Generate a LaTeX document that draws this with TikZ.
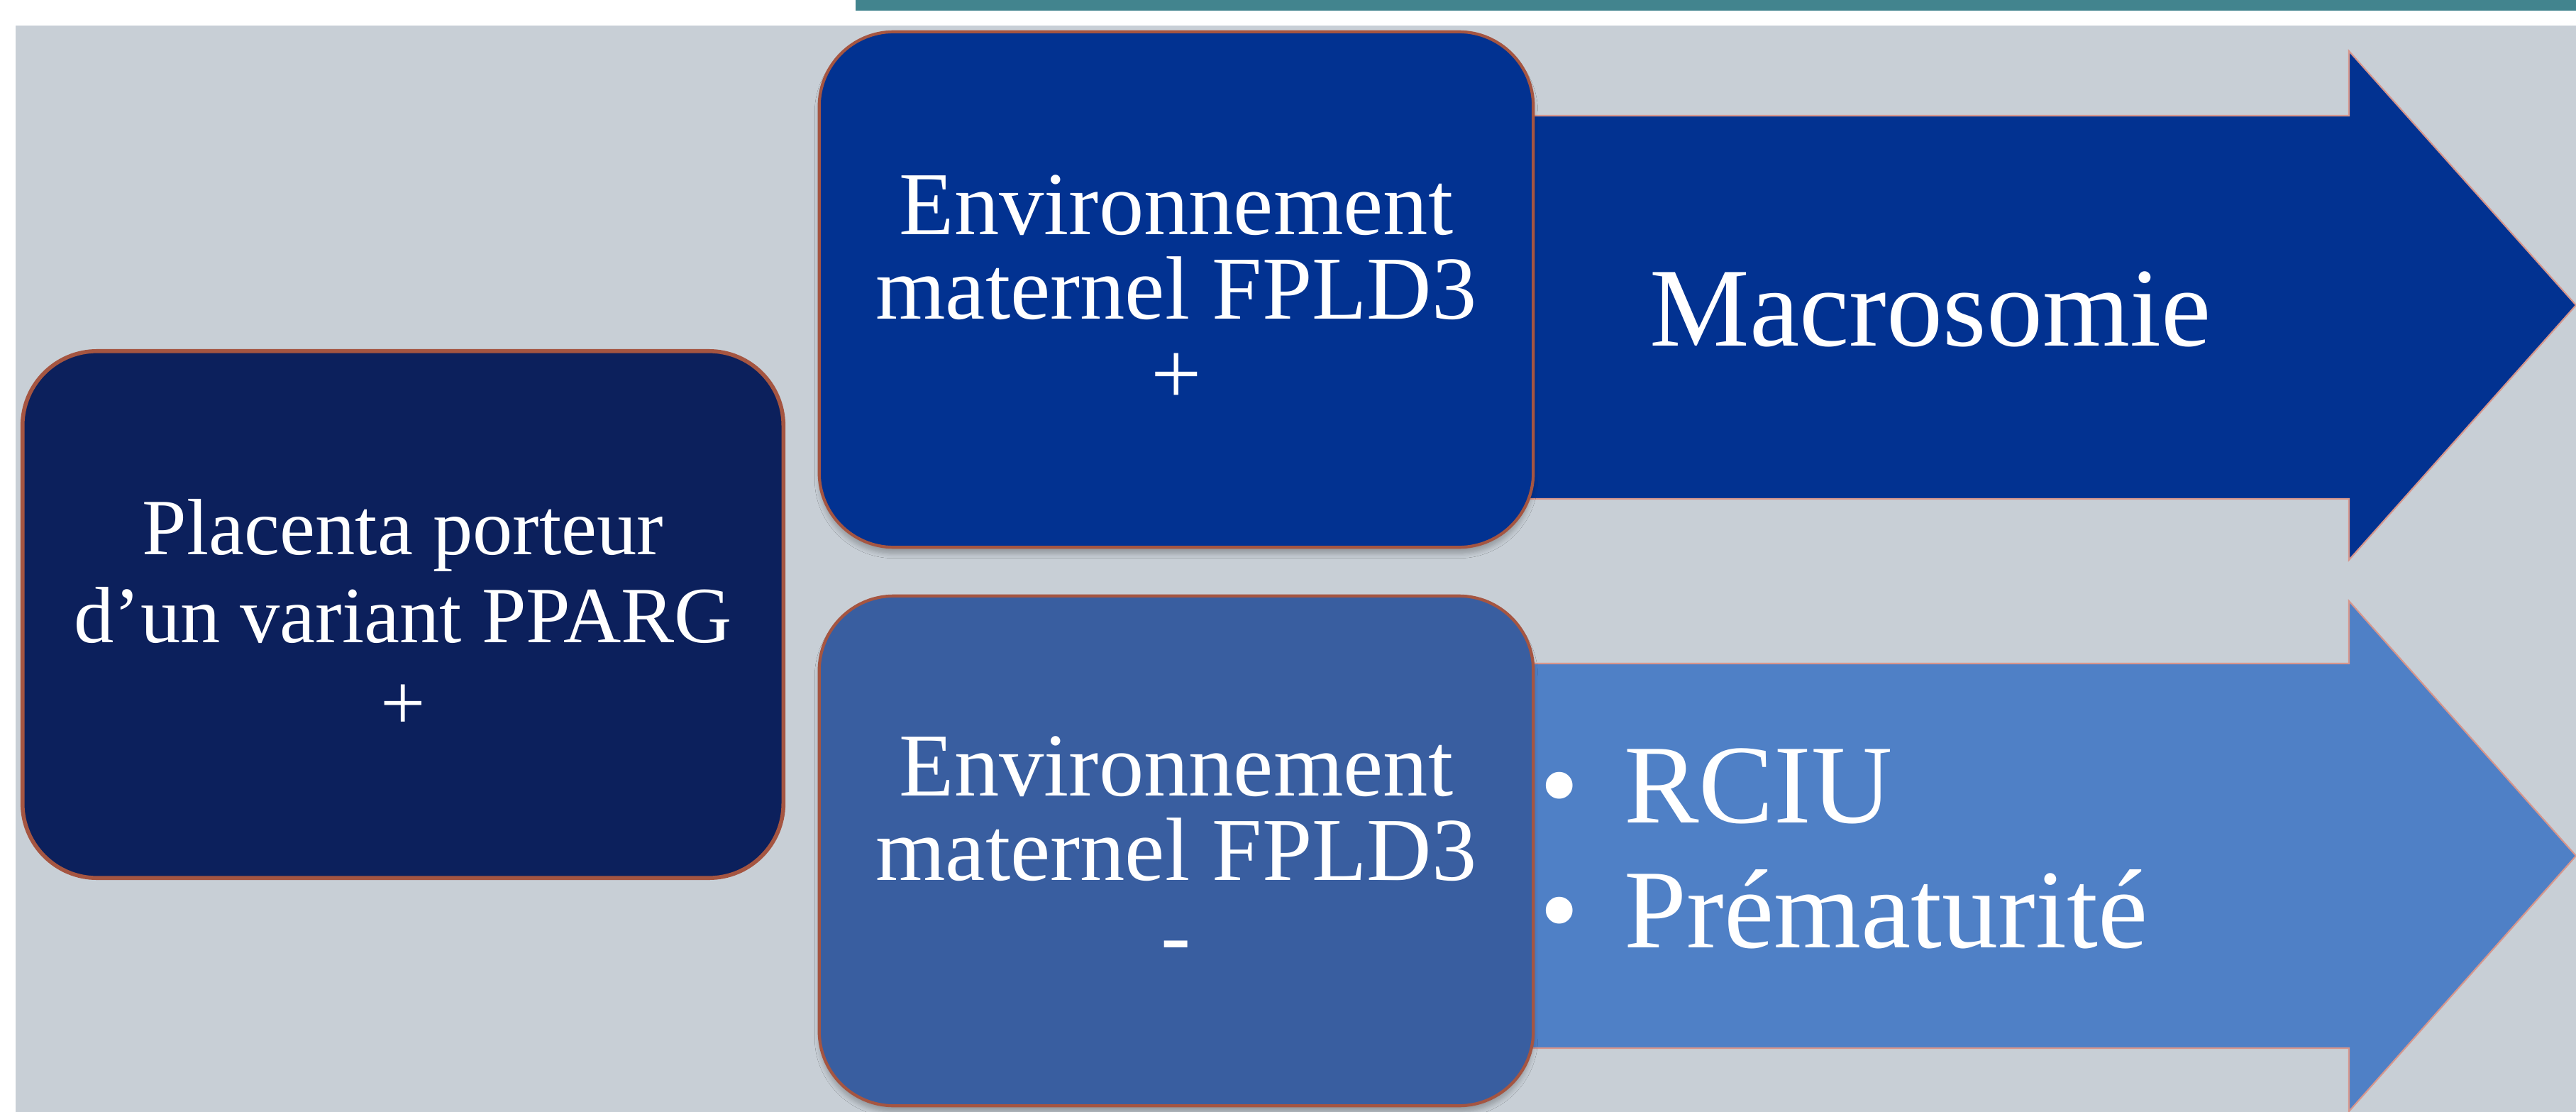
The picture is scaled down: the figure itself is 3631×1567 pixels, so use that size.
\documentclass[tikz,border=0pt]{standalone}
\usepackage{fontspec}
\setmainfont{Liberation Serif}
\usetikzlibrary{shadows.blur}
\definecolor{pagegray}{RGB}{200,207,214}
\definecolor{barteal}{RGB}{66,132,142}
\definecolor{navybox}{RGB}{12,32,92}
\definecolor{deepblue}{RGB}{2,50,145}
\definecolor{midblue}{RGB}{57,94,160}
\definecolor{lightblue}{RGB}{79,128,198}
\definecolor{boxedge}{RGB}{165,85,65}
\definecolor{arrowedge}{RGB}{215,150,140}
\begin{document}
\begin{tikzpicture}[x=0.01cm, y=-0.01cm, every node/.style={text=white, align=center, inner sep=0pt},
  box/.style={draw=boxedge, line width=1.2pt, rounded corners=1.05cm, font=\fontsize{36}{34}\selectfont},
  outtext/.style={anchor=base west, font=\fontsize{45}{50}\selectfont}]
\useasboundingbox (0,0) rectangle (3631,1567);
\fill[white] (0,0) rectangle (3631,1567);
\fill[pagegray] (22,36) rectangle (3631,1567);
\fill[barteal] (1206,0) rectangle (3631,15);

\filldraw[deepblue, draw=arrowedge, line width=0.6pt] (2100,163) -- (3311,163) -- (3311,72) -- (3631,430) -- (3311,789) -- (3311,703) -- (2100,703) -- cycle;
\filldraw[lightblue, draw=arrowedge, line width=0.6pt] (2100,935) -- (3311,935) -- (3311,847) -- (3631,1206) -- (3311,1566) -- (3311,1477) -- (2100,1477) -- cycle;

\node[box, fill=navybox, line width=1.6pt, font=\fontsize{32}{35}\selectfont, minimum width=10.72cm, minimum height=7.42cm] (placenta) at (568,866) {Placenta porteur\\d’un variant PPARG\\+};
\node[box, fill=deepblue, blur shadow={shadow xshift=0pt, shadow yshift=-0.9mm, shadow opacity=25, shadow blur steps=6}, minimum width=10.06cm, minimum height=7.26cm] (envplus) at (1658,408) {Environnement\\maternel FPLD3\\+};
\node[box, fill=midblue, blur shadow={shadow xshift=0pt, shadow yshift=-0.9mm, shadow opacity=25, shadow blur steps=6}, minimum width=10.06cm, minimum height=7.18cm] (envminus) at (1658,1199) {Environnement\\maternel FPLD3\\-};

\node[outtext] (macro) at (2325,487) {Macrosomie};
\node[outtext] (rciu) at (2170,1159) {\textbullet\hspace{18pt}RCIU};
\node[outtext] (premat) at (2170,1335) {\textbullet\hspace{18pt}Prématurité};
\end{tikzpicture}
\end{document}
